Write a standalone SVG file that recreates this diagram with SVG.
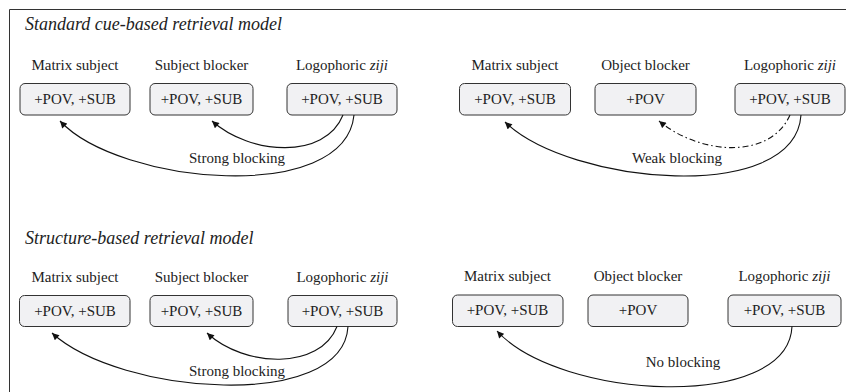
<svg xmlns="http://www.w3.org/2000/svg" width="846" height="392" viewBox="0 0 846 392">
<style>
.t{font-family:'Liberation Serif','DejaVu Serif',serif;font-size:15px;fill:#222;text-anchor:middle}
.h{font-family:'Liberation Serif','DejaVu Serif',serif;font-size:18px;font-style:italic;fill:#222}
.i{font-style:italic}
.b{fill:#f1f1f3;stroke:#333;stroke-width:1}
.c{fill:none;stroke:#111;stroke-width:1.1}
.d{stroke-dasharray:6,3,1.5,3}
</style>
<defs>
<marker id="ah" viewBox="0 0 10 10" refX="10" refY="5" markerWidth="8" markerHeight="7" markerUnits="userSpaceOnUse" orient="auto">
<path d="M0,0 L10,5 L0,10 z" fill="#111"/>
</marker>
</defs>
<rect width="846" height="392" fill="#fff"/>
<path d="M9.5,392 V9.5 H846" fill="none" stroke="#333" stroke-width="1"/>
<text class="h" x="25" y="30">Standard cue-based retrieval model</text>
<text class="h" x="25" y="244">Structure-based retrieval model</text>

<g id="top-matrix"><text class="t" x="75" y="70">Matrix subject</text><rect class="b" x="20" y="83.5" width="110" height="31.5" rx="5"/><text class="t" x="75" y="104">+POV, +SUB</text></g>
<g id="top-subject-blocker"><text class="t" x="201.5" y="70">Subject blocker</text><rect class="b" x="150" y="83.5" width="103" height="31.5" rx="5"/><text class="t" x="201.5" y="104">+POV, +SUB</text></g>
<g id="top-ziji-1"><text class="t" x="342" y="70">Logophoric <tspan class="i">ziji</tspan></text><rect class="b" x="287" y="83.5" width="110" height="31.5" rx="5"/><text class="t" x="342" y="104">+POV, +SUB</text></g>
<g id="top-matrix-2"><text class="t" x="515" y="70">Matrix subject</text><rect class="b" x="459.5" y="83.5" width="111" height="31.5" rx="5"/><text class="t" x="515" y="104">+POV, +SUB</text></g>
<g id="top-object-blocker"><text class="t" x="645.5" y="70">Object blocker</text><rect class="b" x="595" y="83.5" width="101" height="31.5" rx="5"/><text class="t" x="645.5" y="104">+POV</text></g>
<g id="top-ziji-2"><text class="t" x="790" y="70">Logophoric <tspan class="i">ziji</tspan></text><rect class="b" x="735" y="83.5" width="110" height="31.5" rx="5"/><text class="t" x="790" y="104">+POV, +SUB</text></g>

<g id="bot-matrix"><text class="t" x="75" y="282">Matrix subject</text><rect class="b" x="19.5" y="295.5" width="110.5" height="31" rx="5"/><text class="t" x="75" y="316">+POV, +SUB</text></g>
<g id="bot-subject-blocker"><text class="t" x="201.5" y="282">Subject blocker</text><rect class="b" x="150" y="295.5" width="103" height="31" rx="5"/><text class="t" x="201.5" y="316">+POV, +SUB</text></g>
<g id="bot-ziji-1"><text class="t" x="342.5" y="282">Logophoric <tspan class="i">ziji</tspan></text><rect class="b" x="288" y="295.5" width="109" height="31" rx="5"/><text class="t" x="342.5" y="316">+POV, +SUB</text></g>
<g id="bot-matrix-2"><text class="t" x="507.5" y="281">Matrix subject</text><rect class="b" x="452.5" y="295" width="110.5" height="31.5" rx="5"/><text class="t" x="507.5" y="315">+POV, +SUB</text></g>
<g id="bot-object-blocker"><text class="t" x="638" y="281">Object blocker</text><rect class="b" x="588" y="295" width="100" height="31.5" rx="5"/><text class="t" x="638" y="315">+POV</text></g>
<g id="bot-ziji-2"><text class="t" x="784.5" y="281">Logophoric <tspan class="i">ziji</tspan></text><rect class="b" x="728" y="295" width="113" height="31.5" rx="5"/><text class="t" x="784.5" y="315">+POV, +SUB</text></g>

<g id="connectors">
<path class="c" d="M354,115 C345,205 120,185 60,121" marker-end="url(#ah)"/>
<path class="c" d="M343,115 C325,160 250,155 212,121" marker-end="url(#ah)"/>
<text class="t" x="237" y="163">Strong blocking</text>
<path class="c" d="M801,115 C795,205 570,185 505,122" marker-end="url(#ah)"/>
<path class="c d" d="M790,115 C770,160 700,155 659,121" marker-end="url(#ah)"/>
<text class="t" x="677" y="163">Weak blocking</text>
<path class="c" d="M348,326.5 C343,412 120,395 52,333" marker-end="url(#ah)"/>
<path class="c" d="M337,326.5 C320,370 245,368 207,333" marker-end="url(#ah)"/>
<text class="t" x="237" y="376">Strong blocking</text>
<path class="c" d="M792,326.5 C788,412 560,400 497,331" marker-end="url(#ah)"/>
<text class="t" x="683" y="367">No blocking</text>
</g>
</svg>
